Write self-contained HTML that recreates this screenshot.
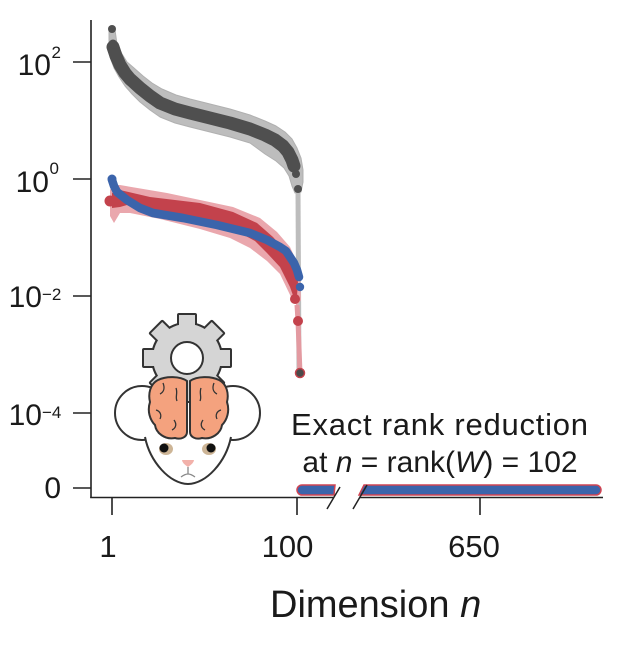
<!DOCTYPE html>
<html><head><meta charset="utf-8"><style>
html,body{margin:0;padding:0;background:#fff;}
svg{display:block;}
text{font-family:"Liberation Sans",Arial,sans-serif;fill:#1a1a1a;}
</style></head><body>
<svg width="628" height="651" viewBox="0 0 628 651" xmlns="http://www.w3.org/2000/svg">
<rect width="628" height="651" fill="#fff"/>

<!-- gray series -->
<polygon fill="#bdbdbd" stroke="#b0b0b0" stroke-width="1" stroke-linejoin="round" points="
115,30 117,44 122,54 127,62 134,68 143,76 152,83 162,89 176,95 190,99 210,104 230,109 250,115 265,121 276,126 285,132 292,139 297,148 301,158 303,170 303,182 301,192
295,193 292,186 289,176 284,168 276,161 265,154 250,143 230,137 210,132 190,127 175,123 160,117 150,110 140,102 132,94 125,86 119,77 114,68 110,57 109,45 109,30"/>
<polyline fill="none" stroke="#bdbdbd" stroke-width="5" points="298,190 299,373"/>
<polyline fill="none" stroke="#4f4f4f" stroke-width="13" stroke-linejoin="round" stroke-linecap="round"
 points="113,47 116,56 120,65 125,73 130,79 140,88 150,96 160,103 175,109 190,113 210,118 230,123 250,129 265,135 275,140 283,146 288,152 292,160 294,166"/>
<circle cx="112" cy="29" r="4" fill="#4f4f4f"/>
<circle cx="113" cy="44" r="4.5" fill="#4f4f4f"/>
<circle cx="296" cy="174" r="4" fill="#4f4f4f"/>
<circle cx="298" cy="189" r="4" fill="#4f4f4f"/>

<!-- red series -->
<polygon fill="#eaa7ad" points="
110,190 112,185 120,185 167,193 233,207 260,218 277,232 290,247 297,262 300,275 301,300
297,306 291,297 280,274 267,261 250,248 230,238 200,229 160,219 130,213 120,213 114,223 110,216"/>
<polyline fill="none" stroke="#e39aa1" stroke-width="5" points="297,305 298,321 300,373"/>
<polygon fill="#c3424c" points="
112,193 120,190 150,197 200,203 233,212 257,223 273,237 287,253 295,270 298,282 297,296
295,301 290,287 280,267 267,253 255,241 240,233 217,227 183,220 153,215 140,211 127,205 120,207 112,208"/>
<circle cx="110" cy="201" r="5.5" fill="#c3424c"/>
<circle cx="295" cy="299" r="5" fill="#c3424c"/>
<circle cx="298" cy="321" r="5" fill="#c3424c"/>

<!-- blue series -->
<polyline fill="none" stroke="#3b64ab" stroke-width="8.5" stroke-linejoin="round" stroke-linecap="round"
 points="112,180 114,186 117,192 122,196 127,200 140,208 153,213 183,218 217,225 250,233 267,240 280,247 286,251 290,257 294,263 297,270 299,277"/>
<circle cx="112" cy="179" r="4.5" fill="#3b64ab"/>
<circle cx="300" cy="287" r="4.2" fill="#3b64ab"/>

<circle cx="300" cy="373" r="4.5" fill="#4a4a4a" stroke="#c3424c" stroke-width="1.5"/>

<!-- axes -->
<g stroke="#222" stroke-width="1.6" fill="none">
<line x1="91" y1="20" x2="91" y2="498"/>
<line x1="90.2" y1="497.5" x2="334" y2="497.5"/>
<line x1="360" y1="497.5" x2="603" y2="497.5"/>
<line x1="73" y1="62" x2="91" y2="62"/>
<line x1="73" y1="179" x2="91" y2="179"/>
<line x1="73" y1="296" x2="91" y2="296"/>
<line x1="73" y1="413" x2="91" y2="413"/>
<line x1="73" y1="488" x2="91" y2="488"/>
<line x1="112" y1="497" x2="112" y2="515"/>
<line x1="297" y1="497" x2="297" y2="515"/>
<line x1="480" y1="497" x2="480" y2="515"/>
</g>

<!-- bottom bar -->
<path d="M302,485 L335,485 L334,495 L302,495 A5,5 0 0 1 302,485 Z" fill="#3b64ab" stroke="#d04452" stroke-width="1.5"/>
<path d="M364,485 L596,485 A5,5 0 0 1 596,495 L359,495 Z" fill="#3b64ab" stroke="#d04452" stroke-width="1.5"/>
<g stroke="#222" stroke-width="1.5">
<line x1="327" y1="509" x2="340" y2="487"/>
<line x1="353" y1="509" x2="367" y2="485"/>
</g>

<!-- y tick labels -->
<text x="51" y="75" font-size="30" text-anchor="end">10</text>
<text x="51.5" y="58" font-size="17">2</text>
<text x="49" y="192" font-size="30" text-anchor="end">10</text>
<text x="49.5" y="174" font-size="17">0</text>
<text x="42" y="307" font-size="30" text-anchor="end">10</text>
<text x="42" y="300" font-size="17">−2</text>
<text x="42" y="425" font-size="30" text-anchor="end">10</text>
<text x="42" y="418" font-size="17">−4</text>
<text x="61" y="498" font-size="30" text-anchor="end">0</text>

<!-- x tick labels -->
<text x="108" y="557" font-size="31" text-anchor="middle">1</text>
<text x="287.5" y="557" font-size="31" text-anchor="middle">100</text>
<text x="474" y="557" font-size="31" text-anchor="middle">650</text>

<text x="270" y="617" font-size="38">Dimension <tspan font-style="italic">n</tspan></text>

<text x="291" y="435" font-size="31" textLength="297" lengthAdjust="spacing">Exact rank reduction</text>
<text x="440" y="472" font-size="30" text-anchor="middle">at <tspan font-style="italic">n</tspan> = rank(<tspan font-style="italic">W</tspan>) = 102</text>

<!-- mouse illustration -->
<g stroke="#333" stroke-width="2">
<circle cx="142" cy="413" r="27" fill="#fff"/>
<circle cx="233" cy="413" r="27" fill="#fff"/>
</g>
<path d="M145,437 C150,462 170,484 188,484 C206,484 226,462 231,437 C215,430 160,430 145,437 Z" fill="#fff"/>
<path d="M145,437 C150,462 170,484 188,484 C206,484 226,462 231,437" fill="none" stroke="#333" stroke-width="2"/>

<!-- gear -->
<g transform="translate(187,358)">
<g fill="#333" stroke="#333" stroke-width="4" stroke-linejoin="round">
<circle r="34"/>
<rect x="-8" y="-43" width="16" height="12"/>
<rect x="-8" y="-43" width="16" height="12" transform="rotate(45)"/>
<rect x="-8" y="-43" width="16" height="12" transform="rotate(90)"/>
<rect x="-8" y="-43" width="16" height="12" transform="rotate(135)"/>
<rect x="-8" y="-43" width="16" height="12" transform="rotate(180)"/>
<rect x="-8" y="-43" width="16" height="12" transform="rotate(225)"/>
<rect x="-8" y="-43" width="16" height="12" transform="rotate(270)"/>
<rect x="-8" y="-43" width="16" height="12" transform="rotate(315)"/>
</g>
<g fill="#d5d5d5">
<circle r="34"/>
<rect x="-8" y="-43" width="16" height="12"/>
<rect x="-8" y="-43" width="16" height="12" transform="rotate(45)"/>
<rect x="-8" y="-43" width="16" height="12" transform="rotate(90)"/>
<rect x="-8" y="-43" width="16" height="12" transform="rotate(135)"/>
<rect x="-8" y="-43" width="16" height="12" transform="rotate(180)"/>
<rect x="-8" y="-43" width="16" height="12" transform="rotate(225)"/>
<rect x="-8" y="-43" width="16" height="12" transform="rotate(270)"/>
<rect x="-8" y="-43" width="16" height="12" transform="rotate(315)"/>
</g>
<circle r="16" fill="#fff" stroke="#333" stroke-width="2"/>
</g>

<!-- brain -->
<g fill="#f4a27e" stroke="#333" stroke-width="2" stroke-linejoin="round">
<path d="M187,381 C180,376 166,376 158,380 C150,384 148,394 150,402 C147,411 150,420 155,425 C156,433 165,440 175,438 C181,440 187,437 187,432 Z"/>
<path d="M190,381 C197,376 211,376 219,380 C227,384 229,394 227,402 C230,411 227,420 222,425 C221,433 212,440 202,438 C196,440 190,437 190,432 Z"/>
</g>
<g fill="none" stroke="#333" stroke-width="1.3">
<path d="M163,383 C165,388 164,392 160,394"/>
<path d="M176,388 C178,393 175,397 177,401"/>
<path d="M156,410 C160,411 162,415 160,419"/>
<path d="M174,420 C177,424 176,428 172,430"/>
<path d="M214,383 C212,388 213,392 217,394"/>
<path d="M201,388 C199,393 202,397 200,401"/>
<path d="M221,410 C217,411 215,415 217,419"/>
<path d="M203,420 C200,424 201,428 205,430"/>
</g>

<!-- face -->
<ellipse cx="166" cy="449" rx="7" ry="6" fill="#cdb596"/>
<ellipse cx="209" cy="449" rx="7" ry="6" fill="#cdb596"/>
<circle cx="164" cy="448" r="4.5" fill="#111"/>
<circle cx="211" cy="448" r="4.5" fill="#111"/>
<path d="M182,460 L194,460 Q194,463 188,467 Q182,463 182,460 Z" fill="#f2b1aa"/>
<path d="M188,467 L188,474 M181,477 Q185,474 188,474 Q191,474 195,477" fill="none" stroke="#888" stroke-width="1.3"/>
</svg>
</body></html>
